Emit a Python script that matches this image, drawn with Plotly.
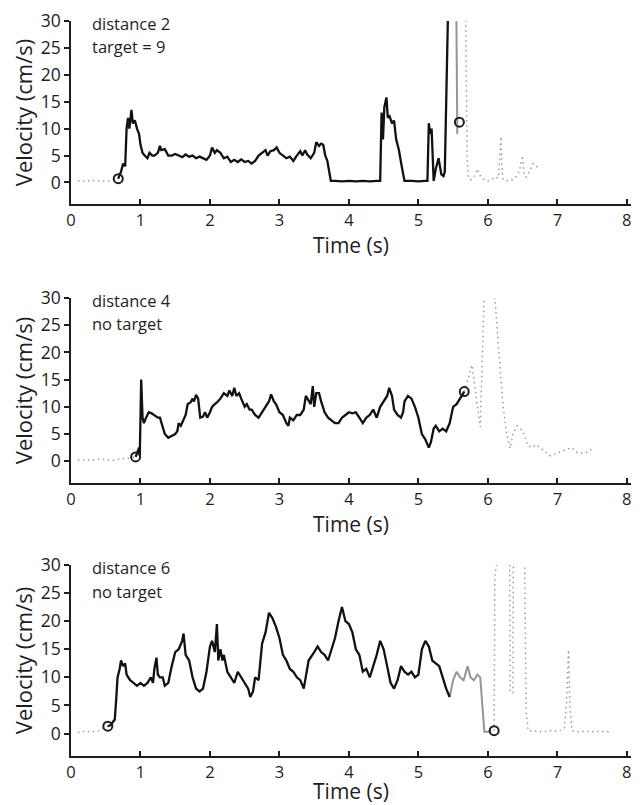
import plotly.graph_objects as go

# ---------------- Panel 1: distance 2, target = 9 ----------------
p1_pre_t = [0.10, 0.20, 0.30, 0.40, 0.50, 0.60, 0.68]
p1_pre_v = [0.3, 0.2, 0.4, 0.3, 0.2, 0.4, 0.7]
p1_main_t = [0.68, 0.72, 0.75, 0.78, 0.80, 0.82, 0.84, 0.87, 0.89, 0.92, 0.95, 0.98, 1.00, 1.03, 1.06, 1.10,
             1.13, 1.17, 1.20, 1.25, 1.28, 1.30, 1.35, 1.40, 1.45, 1.50, 1.55, 1.60, 1.65, 1.70, 1.75, 1.80,
             1.85, 1.90, 1.95, 2.00, 2.03, 2.07, 2.10, 2.15, 2.20, 2.25, 2.30, 2.35, 2.40, 2.45, 2.50, 2.55,
             2.60, 2.65, 2.70, 2.75, 2.80, 2.83, 2.87, 2.92, 2.96, 3.00, 3.05, 3.10, 3.15, 3.20, 3.25, 3.30,
             3.33, 3.37, 3.40, 3.45, 3.50, 3.53, 3.57, 3.60, 3.63, 3.66, 3.69, 3.72, 3.74, 3.80, 3.90, 4.00,
             4.10, 4.20, 4.30, 4.40, 4.45, 4.47, 4.49, 4.51, 4.54, 4.56, 4.58, 4.62, 4.65, 4.68, 4.72, 4.76,
             4.80, 4.90, 5.00, 5.10, 5.13, 5.15, 5.17, 5.19, 5.22, 5.25, 5.29, 5.33, 5.36, 5.38, 5.43]
p1_main_v = [0.7, 2.0, 3.5, 3.0, 10.0, 12.0, 10.0, 13.5, 11.0, 11.5, 10.0, 9.0, 7.0, 5.5, 5.0, 4.5,
             5.5, 5.0, 5.0, 5.5, 6.8, 6.0, 6.2, 5.0, 5.0, 5.3, 5.0, 4.7, 5.2, 4.8, 5.0, 4.5,
             4.8, 4.5, 4.2, 5.0, 6.5, 5.5, 6.0, 5.5, 4.5, 4.8, 3.8, 4.2, 3.8, 4.3, 3.8, 4.0,
             3.5, 4.0, 5.0, 5.5, 6.0, 5.0, 5.8, 6.0, 6.5, 5.5, 5.0, 4.5, 4.8, 4.0, 5.0, 5.8,
             5.0, 6.0, 5.2, 4.5, 5.5, 7.5, 6.8, 7.2, 7.0, 5.0, 4.0, 2.0, 0.3, 0.3, 0.2, 0.3,
             0.2, 0.3, 0.2, 0.3, 0.3, 13.0, 8.0, 14.0, 15.8, 12.0, 12.5, 11.0, 11.5, 8.0, 6.0, 3.0,
             0.3, 0.3, 0.2, 0.3, 0.3, 11.0, 9.0, 10.0, 0.3, 2.5, 4.5, 1.5, 1.2, 2.0, 34.0]
p1_grey_t = [5.545, 5.56]
p1_grey_v = [34.0, 9.0]
p1_post_t = [5.68, 5.70, 5.72, 5.75, 5.80, 5.85, 5.90, 5.95, 6.00, 6.05, 6.10, 6.15, 6.19, 6.20, 6.22,
             6.30, 6.35, 6.40, 6.45, 6.50, 6.52, 6.55, 6.60, 6.65, 6.70, 6.73]
p1_post_v = [32.0, 5.0, 1.0, 0.5, 1.0, 2.5, 1.0, 0.5, 0.3, 0.5, 1.0, 0.8, 8.5, 3.0, 0.5,
             0.3, 0.5, 1.0, 2.0, 5.0, 1.5, 1.0, 2.0, 3.5, 3.0, 2.5]
p1_marks_t = [0.68, 5.59]
p1_marks_v = [0.7, 11.2]

# ---------------- Panel 2: distance 4, no target ----------------
p2_pre_t = [0.10, 0.20, 0.30, 0.40, 0.50, 0.60, 0.70, 0.80, 0.93]
p2_pre_v = [0.2, 0.3, 0.2, 0.4, 0.3, 0.2, 0.4, 0.5, 0.8]
p2_main_t = [0.93, 0.96, 0.98, 0.99, 1.01, 1.03, 1.05, 1.08, 1.12, 1.16, 1.20, 1.25, 1.28, 1.30, 1.35, 1.40,
             1.45, 1.50, 1.53, 1.55, 1.58, 1.62, 1.65, 1.68, 1.72, 1.75, 1.77, 1.80, 1.83, 1.86, 1.90, 1.93,
             1.96, 2.00, 2.03, 2.07, 2.10, 2.15, 2.20, 2.25, 2.28, 2.32, 2.35, 2.38, 2.42, 2.45, 2.50, 2.53,
             2.57, 2.60, 2.65, 2.70, 2.75, 2.80, 2.85, 2.88, 2.92, 2.95, 3.00, 3.05, 3.10, 3.13, 3.15, 3.20,
             3.25, 3.30, 3.35, 3.38, 3.42, 3.45, 3.48, 3.50, 3.53, 3.57, 3.60, 3.65, 3.70, 3.75, 3.80, 3.85,
             3.90, 3.95, 4.00, 4.05, 4.10, 4.15, 4.20, 4.25, 4.30, 4.35, 4.40, 4.45, 4.50, 4.55, 4.58, 4.62,
             4.65, 4.70, 4.75, 4.78, 4.80, 4.85, 4.90, 4.95, 5.00, 5.05, 5.10, 5.15, 5.18, 5.22, 5.25, 5.30,
             5.35, 5.40, 5.45, 5.50, 5.55, 5.60, 5.66]
p2_main_v = [0.8, 2.0, 2.5, 1.0, 15.0, 8.0, 7.0, 8.0, 9.0, 8.8, 8.5, 8.0, 8.0, 7.0, 5.0, 4.3,
             4.7, 5.0, 5.5, 7.0, 6.5, 7.5, 8.5, 10.5, 10.8, 11.5, 11.0, 12.2, 11.5, 8.0, 8.2, 9.0,
             8.0, 9.0, 10.0, 10.5, 10.8, 11.5, 12.5, 12.0, 13.0, 12.0, 13.5, 12.0, 12.5, 11.5, 10.0, 10.5,
             9.5, 9.5, 8.5, 8.0, 9.0, 10.0, 11.0, 12.3, 11.0, 10.5, 9.0, 8.5, 7.0, 6.5, 8.0, 7.5,
             8.5, 8.5, 9.5, 12.0, 11.0, 10.5, 13.8, 10.0, 12.5, 12.5, 11.0, 9.0, 8.0, 7.5, 7.0, 7.0,
             8.0, 8.5, 9.0, 8.8, 9.0, 8.0, 7.0, 8.0, 8.5, 9.5, 8.0, 10.0, 11.0, 12.0, 13.5, 12.0,
             9.5, 8.5, 8.0, 9.0, 11.0, 12.0, 11.5, 10.0, 8.0, 5.0, 4.0, 2.5, 3.5, 6.0, 6.5, 5.5,
             6.0, 5.5, 7.0, 10.0, 10.5, 11.5, 12.8]
p2_post_t = [5.66, 5.77, 5.82, 5.89, 5.95, 6.09, 6.17, 6.22, 6.27, 6.32, 6.36, 6.42, 6.47, 6.52, 6.57, 6.62,
             6.70, 6.80, 6.90, 7.00, 7.10, 7.20, 7.30, 7.40, 7.53]
p2_post_v = [12.8, 17.7, 13.0, 6.3, 32.0, 32.0, 18.2, 10.0, 5.0, 2.4, 5.0, 6.5, 6.0, 5.0, 3.0, 2.5,
             3.0, 2.0, 1.0, 1.5, 2.0, 2.5, 1.5, 1.5, 2.5]
p2_marks_t = [0.93, 5.66]
p2_marks_v = [0.8, 12.8]

# ---------------- Panel 3: distance 6, no target ----------------
p3_pre_t = [0.10, 0.20, 0.30, 0.40, 0.53]
p3_pre_v = [0.2, 0.4, 0.3, 0.5, 1.3]
p3_main_t = [0.53, 0.57, 0.60, 0.63, 0.65, 0.67, 0.70, 0.72, 0.75, 0.78, 0.80, 0.85, 0.90, 0.95, 1.00, 1.05,
             1.10, 1.15, 1.18, 1.20, 1.23, 1.25, 1.28, 1.32, 1.35, 1.40, 1.45, 1.50, 1.55, 1.60, 1.62, 1.65,
             1.70, 1.75, 1.80, 1.85, 1.90, 1.95, 2.00, 2.03, 2.07, 2.10, 2.12, 2.15, 2.18, 2.20, 2.25, 2.30,
             2.35, 2.40, 2.45, 2.50, 2.55, 2.58, 2.62, 2.65, 2.70, 2.75, 2.80, 2.85, 2.90, 2.95, 3.00, 3.05,
             3.10, 3.15, 3.20, 3.25, 3.30, 3.35, 3.38, 3.42, 3.50, 3.55, 3.60, 3.65, 3.70, 3.75, 3.80, 3.85,
             3.90, 3.95, 4.00, 4.05, 4.10, 4.15, 4.20, 4.25, 4.30, 4.35, 4.40, 4.45, 4.50, 4.55, 4.60, 4.65,
             4.70, 4.75, 4.80, 4.85, 4.90, 4.95, 5.00, 5.05, 5.10, 5.15, 5.20, 5.25, 5.30, 5.35, 5.40, 5.45]
p3_main_v = [1.3, 1.5, 2.0, 2.5, 6.0, 10.0, 11.5, 13.0, 12.0, 12.5, 10.5, 9.5, 9.0, 8.5, 9.0, 8.5,
             9.0, 10.0, 9.0, 11.5, 13.5, 10.5, 10.0, 10.0, 8.5, 9.0, 12.0, 14.5, 15.0, 16.5, 17.8, 14.0,
             13.0, 10.0, 8.0, 7.5, 8.0, 11.0, 15.5, 16.5, 14.5, 19.5, 13.0, 15.0, 13.0, 14.0, 11.0, 10.0,
             9.0, 11.0, 10.0, 9.0, 8.0, 6.5, 7.5, 10.0, 9.5, 16.0, 18.0, 21.5, 20.5, 19.0, 17.0, 14.0,
             13.0, 11.5, 11.0, 10.0, 9.5, 8.0, 10.0, 13.0, 14.5, 15.5, 14.5, 14.0, 13.0, 15.0, 17.0, 20.0,
             22.5, 20.0, 19.5, 18.0, 15.0, 14.0, 11.0, 11.5, 10.0, 12.0, 14.0, 16.5, 15.0, 12.0, 9.0, 8.0,
             9.5, 12.0, 11.0, 10.5, 11.0, 10.0, 10.5, 15.0, 16.5, 15.5, 13.0, 12.5, 12.0, 10.0, 8.0, 6.5]
p3_grey_t = [5.45, 5.50, 5.55, 5.60, 5.65, 5.71, 5.75, 5.80, 5.85, 5.89, 5.95, 6.00, 6.05]
p3_grey_v = [6.5, 9.5, 11.0, 10.0, 9.5, 12.0, 10.0, 9.5, 10.5, 10.0, 0.3, 0.3, 0.5]
p3_post_t = [6.09, 6.10, 6.31, 6.32, 6.36, 6.37, 6.53, 6.55, 6.58, 6.70, 6.80, 6.90, 7.00, 7.05, 7.10,
             7.13, 7.16, 7.18, 7.21, 7.30, 7.40, 7.50, 7.60, 7.75]
p3_post_v = [0.5, 28.0, 45.0, 7.3, 7.3, 45.0, 30.0, 4.0, 0.5, 0.4, 0.3, 0.5, 0.4, 0.6, 1.0,
             5.0, 14.9, 5.0, 0.5, 0.3, 0.4, 0.3, 0.4, 0.3]
p3_marks_t = [0.53, 6.09]
p3_marks_v = [1.3, 0.5]

labels = [["distance 2", "target = 9"], ["distance 4", "no target"], ["distance 6", "no target"]]
y_ticks = [0, 5, 10, 15, 20, 25, 30]
x_ticks = [0, 1, 2, 3, 4, 5, 6, 7, 8]

panels = [
    dict(pre=(p1_pre_t, p1_pre_v), main=(p1_main_t, p1_main_v), grey=(p1_grey_t, p1_grey_v),
         post=(p1_post_t, p1_post_v), marks=(p1_marks_t, p1_marks_v)),
    dict(pre=(p2_pre_t, p2_pre_v), main=(p2_main_t, p2_main_v), grey=None,
         post=(p2_post_t, p2_post_v), marks=(p2_marks_t, p2_marks_v)),
    dict(pre=(p3_pre_t, p3_pre_v), main=(p3_main_t, p3_main_v), grey=(p3_grey_t, p3_grey_v),
         post=(p3_post_t, p3_post_v), marks=(p3_marks_t, p3_marks_v)),
]

W, H = 632, 797
# figure-pixel positions (top at y=30, bottom axis line) for each panel
px_bounds = [(13, 196), (290, 475), (557, 748)]
domains = [[(H - b) / H, (H - t) / H] for (t, b) in px_bounds]

FONT = "Open Sans"
INK = "#1e1e1e"
fig = go.Figure()
for i, p in enumerate(panels):
    n = "" if i == 0 else str(i + 1)
    xa, ya = "x" + n, "y" + n
    dotted = dict(color="#9c9c9c", width=1.5, dash="1.5px,3.5px")
    fig.add_trace(go.Scatter(x=p["pre"][0], y=p["pre"][1], mode="lines", line=dotted, xaxis=xa, yaxis=ya))
    fig.add_trace(go.Scatter(x=p["post"][0], y=p["post"][1], mode="lines", line=dotted, xaxis=xa, yaxis=ya))
    if p["grey"] is not None:
        fig.add_trace(go.Scatter(x=p["grey"][0], y=p["grey"][1], mode="lines",
                                 line=dict(color="#959595", width=2), xaxis=xa, yaxis=ya))
    fig.add_trace(go.Scatter(x=p["main"][0], y=p["main"][1], mode="lines",
                             line=dict(color="#111111", width=2.3), xaxis=xa, yaxis=ya))
    fig.add_trace(go.Scatter(x=p["marks"][0], y=p["marks"][1], mode="markers",
                             marker=dict(symbol="circle-open", size=9, color=INK, line=dict(width=2)),
                             xaxis=xa, yaxis=ya))
    fig.add_annotation(x=0.27, y=29.6, xref=xa, yref=ya, text=labels[i][0], showarrow=False,
                       xanchor="left", yanchor="middle", font=dict(size=16.5, color=INK, family=FONT))
    fig.add_annotation(x=0.27, y=25.3, xref=xa, yref=ya, text=labels[i][1], showarrow=False,
                       xanchor="left", yanchor="middle", font=dict(size=16.5, color=INK, family=FONT))
    xkey = "xaxis" + n
    ykey = "yaxis" + n
    fig.update_layout(**{
        xkey: dict(domain=[0, 1], range=[0, 8.06], anchor=ya, tickvals=x_ticks, ticks="inside", ticklen=5,
                   tickwidth=1.5, tickcolor=INK, showline=True, linecolor=INK, linewidth=1.6,
                   showgrid=False, zeroline=False, title=dict(text="Time (s)", standoff=2,
                   font=dict(size=21, family=FONT, color=INK)),
                   tickfont=dict(size=16.5, family=FONT, color=INK), automargin=False,
                   ticklabeloverflow="allow"),
        ykey: dict(domain=domains[i], range=[-4, 30], anchor=xa, tickvals=y_ticks, ticks="outside", ticklen=5,
                   tickwidth=1.5, tickcolor=INK, showline=True, linecolor=INK, linewidth=1.6,
                   showgrid=False, zeroline=False, title=dict(text="Velocity (cm/s)", standoff=2,
                   font=dict(size=22, family=FONT, color=INK)),
                   tickfont=dict(size=17.5, family=FONT, color=INK), automargin=False,
                   ticklabeloverflow="allow"),
    })

fig.update_layout(width=W, height=H, showlegend=False, plot_bgcolor="white", paper_bgcolor="white",
                  margin=dict(l=63, r=9, t=0, b=0))
fig.write_html("out.html")
